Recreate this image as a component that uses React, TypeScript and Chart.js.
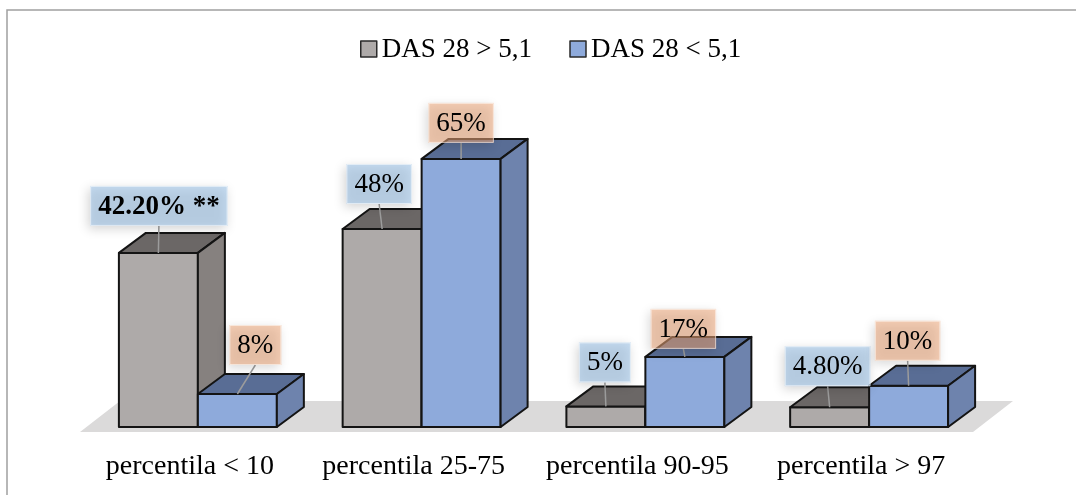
import React, { useEffect, useRef } from "react";
import { Chart, registerables } from "chart.js";

Chart.register(...registerables);

// ---- data ----
const categories = ["percentila < 10", "percentila 25-75", "percentila 90-95", "percentila > 97"];
const seriesNames = ["DAS 28 > 5,1", "DAS 28 < 5,1"];
const highActivity = [42.2, 48, 5, 4.8];
const lowActivity = [8, 65, 17, 10];
const highLabels = ["42.20% **", "48%", "5%", "4.80%"];
const lowLabels = ["8%", "65%", "17%", "10%"];
const yMax = 80;

// ---- style ----
const FONT = "'Liberation Serif', 'Times New Roman', serif";
const FONT_SIZE = 27;
const CATEGORY_FONT_SIZE = 28;
const DEPTH = { dx: 27, dy: -20 };
const FLOOR = { inset: 6, trimRight: 8, drop: 5, dx: 40, dy: -31, color: "#dbdada" };
const palettes = [
  { front: "#aeaaa9", top: "#6b6766", side: "#86817f", callout: "rgba(158,195,230,0.6)" },
  { front: "#8eaadb", top: "#596d95", side: "#6e83ad", callout: "rgba(236,166,120,0.55)" },
];
// callout nudges per series: [horizontal shift, gap above the bar]
const calloutNudges = [
  [[0.5, 27], [-3, 25], [-1, 24], [-2, 21]],
  [[18, 29], [0, 16], [-1.5, 8], [-1, 25]],
];
const calloutBold = [[true, false, false, false], [false, false, false, false]];

function drawPrism(ctx: CanvasRenderingContext2D, x0: number, x1: number, top: number, base: number, pal: any) {
  const { dx, dy } = DEPTH;
  ctx.lineWidth = 2;
  ctx.lineJoin = "round";
  ctx.strokeStyle = "#141414";
  ctx.fillStyle = pal.front;
  ctx.beginPath();
  ctx.rect(x0, top, x1 - x0, base - top);
  ctx.fill();
  ctx.stroke();
  ctx.fillStyle = pal.top;
  ctx.beginPath();
  ctx.moveTo(x0, top);
  ctx.lineTo(x0 + dx, top + dy);
  ctx.lineTo(x1 + dx, top + dy);
  ctx.lineTo(x1, top);
  ctx.closePath();
  ctx.fill();
  ctx.stroke();
  ctx.fillStyle = pal.side;
  ctx.beginPath();
  ctx.moveTo(x1, top);
  ctx.lineTo(x1 + dx, top + dy);
  ctx.lineTo(x1 + dx, base + dy);
  ctx.lineTo(x1, base);
  ctx.closePath();
  ctx.fill();
  ctx.stroke();
}

const prismPlugin = {
  id: "prism3d",
  beforeDatasetsDraw(chart: any) {
    const ctx: CanvasRenderingContext2D = chart.ctx;
    const area = chart.chartArea;
    const labelSets = [highLabels, lowLabels];
    ctx.save();

    // outer frame
    ctx.strokeStyle = "#a0a0a0";
    ctx.lineWidth = 1.5;
    ctx.strokeRect(7, 10, chart.width + 20, chart.height + 20);

    // floor
    const bars0 = chart.getDatasetMeta(0).data;
    const baseY = bars0[0].getProps(["base"], true).base;
    const fy = baseY + FLOOR.drop;
    const fx0 = area.left - FLOOR.inset;
    const fx1 = area.right - FLOOR.trimRight;
    ctx.fillStyle = FLOOR.color;
    ctx.beginPath();
    ctx.moveTo(fx0, fy);
    ctx.lineTo(fx1, fy);
    ctx.lineTo(fx1 + FLOOR.dx, fy + FLOOR.dy);
    ctx.lineTo(fx0 + FLOOR.dx, fy + FLOOR.dy);
    ctx.closePath();
    ctx.fill();

    // bars, category by category so the depth overlaps correctly
    for (let i = 0; i < categories.length; i++) {
      chart.data.datasets.forEach((_: any, d: number) => {
        const el = chart.getDatasetMeta(d).data[i];
        const p = el.getProps(["x", "y", "base", "width"], true);
        drawPrism(ctx, p.x - p.width / 2, p.x + p.width / 2, p.y, p.base, palettes[d]);
      });
    }

    // value callouts
    chart.data.datasets.forEach((_: any, d: number) => {
      chart.getDatasetMeta(d).data.forEach((el: any, i: number) => {
        const p = el.getProps(["x", "y"], true);
        const [shift, gap] = calloutNudges[d][i];
        const text = labelSets[d][i];
        ctx.font = `${calloutBold[d][i] ? "bold " : ""}${FONT_SIZE}px ${FONT}`;
        const w = ctx.measureText(text).width + 16;
        const h = 40;
        const cx = p.x + shift;
        const bottom = p.y - gap;
        const top = bottom - h;
        ctx.strokeStyle = "#9c9c9c";
        ctx.lineWidth = 1.5;
        ctx.beginPath();
        ctx.moveTo(cx, bottom);
        ctx.lineTo(p.x, p.y);
        ctx.stroke();
        ctx.save();
        ctx.shadowColor = "rgba(0,0,0,0.28)";
        ctx.shadowBlur = 10;
        ctx.shadowOffsetX = -2;
        ctx.shadowOffsetY = 3;
        ctx.fillStyle = palettes[d].callout;
        ctx.fillRect(cx - w / 2, top, w, h);
        ctx.restore();
        ctx.strokeStyle = "rgba(255,255,255,0.55)";
        ctx.lineWidth = 1;
        ctx.strokeRect(cx - w / 2 + 0.5, top + 0.5, w - 1, h - 1);
        ctx.fillStyle = "#000";
        ctx.textAlign = "center";
        ctx.textBaseline = "middle";
        ctx.fillText(text, cx, top + h / 2 + 1);
      });
    });

    // category labels
    ctx.font = `${CATEGORY_FONT_SIZE}px ${FONT}`;
    ctx.fillStyle = "#000";
    ctx.textAlign = "center";
    ctx.textBaseline = "alphabetic";
    categories.forEach((c, i) => {
      const x = chart.scales.x.getPixelForValue(i) - 8;
      ctx.fillText(c, x, baseY + 47);
    });

    // legend
    ctx.font = `${FONT_SIZE}px ${FONT}`;
    const box = 16;
    const gapText = 5;
    const gapItems = 38;
    const widths = seriesNames.map((n) => ctx.measureText(n).width);
    const total = widths.reduce((a, b) => a + b, 0) + seriesNames.length * (box + gapText) + gapItems;
    let lx = chart.width / 2 + 13 - total / 2;
    const ly = 49;
    seriesNames.forEach((n, d) => {
      ctx.fillStyle = palettes[d].front;
      ctx.strokeStyle = "#2a2a2a";
      ctx.lineWidth = 1.5;
      ctx.fillRect(lx, ly - box / 2, box, box);
      ctx.strokeRect(lx, ly - box / 2, box, box);
      ctx.fillStyle = "#000";
      ctx.textAlign = "left";
      ctx.textBaseline = "middle";
      ctx.fillText(n, lx + box + gapText, ly + 1);
      lx += box + gapText + widths[d] + gapItems;
    });

    ctx.restore();
    return false;
  },
};

export default function App() {
  const ref = useRef<HTMLCanvasElement>(null);
  useEffect(() => {
    const chart = new Chart(ref.current as HTMLCanvasElement, {
      type: "bar",
      data: {
        labels: categories,
        datasets: [
          { label: seriesNames[0], data: highActivity, backgroundColor: palettes[0].front, barPercentage: 1, categoryPercentage: 0.706 },
          { label: seriesNames[1], data: lowActivity, backgroundColor: palettes[1].front, barPercentage: 1, categoryPercentage: 0.706 },
        ],
      },
      options: {
        responsive: false,
        devicePixelRatio: 1,
        animation: false,
        layout: { padding: { left: 86, right: 95, top: 97, bottom: 68 } },
        plugins: { legend: { display: false }, tooltip: { enabled: false } },
        scales: {
          x: { display: false, offset: true },
          y: { display: false, min: 0, max: yMax },
        },
      },
      plugins: [prismPlugin],
    });
    return () => chart.destroy();
  }, []);
  return (
    <div style={{ position: "fixed", left: 0, top: 0, width: 1076, height: 495, background: "#fff" }}>
      <canvas ref={ref} width={1076} height={495} style={{ display: "block" }} />
    </div>
  );
}
